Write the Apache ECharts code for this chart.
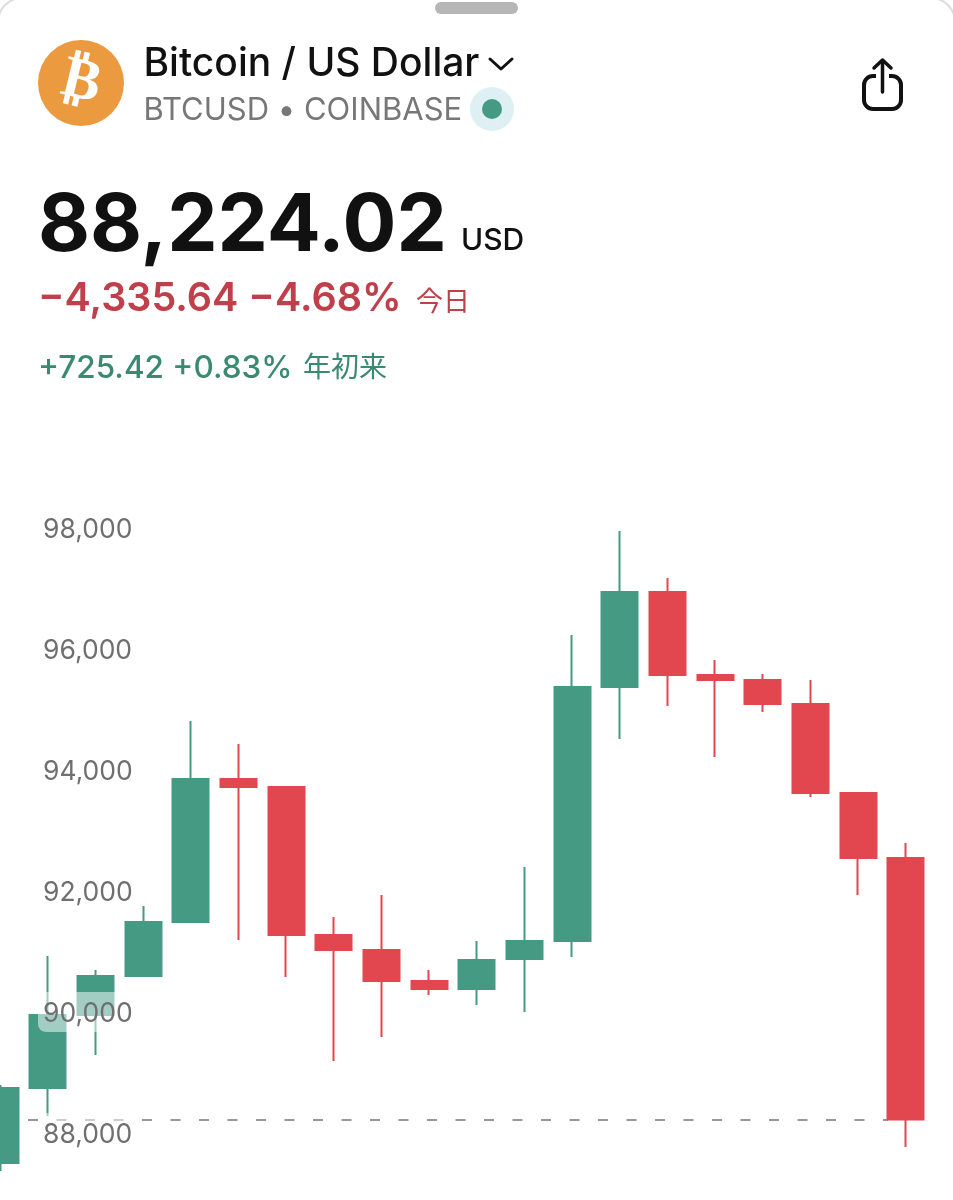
<!DOCTYPE html>
<html>
<head>
<meta charset="utf-8">
<title>BTCUSD</title>
<script src="https://cdn.jsdelivr.net/npm/echarts@6/dist/echarts.min.js"></script>
<style>
  html, body { margin: 0; padding: 0; background: #fff; }
  #main { width: 953px; height: 1200px; }
</style>
</head>
<body>
<div id="main"></div>
<script>
var days = ['1','2','3','4','5','6','7','8','9','10','11','12','13','14','15','16','17','18','19','20'];
var opens  = [87504, 88744, 89950, 90595, 91488, 93851, 93719, 91273, 91025, 90512, 90380, 90876, 91174, 95372, 96942, 95570, 95488, 95091, 93620, 92545];
var closes = [88744, 89950, 90595, 91488, 93851, 93719, 91273, 91025, 90512, 90380, 90860, 91174, 95372, 96942, 95570, 95488, 95091, 93620, 92545, 88224.02];
var lows   = [87372, 88281, 89289, 90595, 91488, 91190, 90579, 89190, 89587, 90281, 90116, 90000, 90909, 94512, 95058, 94215, 94959, 93554, 91934, 87769];
var highs  = [88793, 90926, 90694, 91752, 94810, 94430, 93719, 91570, 91934, 90694, 91174, 92397, 96231, 97950, 97174, 95818, 95587, 95488, 93620, 92793];
var tickLabels = [88000, 90000, 92000, 94000, 96000, 98000];
var lastPrice = 88224.02;

var upColor = '#459a84';
var downColor = '#e2474f';
var uiFont = 'Inter, "Noto Sans CJK JP", sans-serif';

var candles = days.map(function (d, i) {
  return [opens[i], closes[i], lows[i], highs[i]];
});

function label(x, y, text, size, weight, color) {
  return {
    type: 'text', x: x, y: y, z: 10,
    style: { text: text, font: weight + ' ' + size + 'px ' + uiFont, fill: color, textVerticalAlign: 'middle' }
  };
}

var myChart = echarts.init(document.getElementById('main'));
myChart.setOption({
  animation: false,
  backgroundColor: '#fff',
  // the first candle runs off the left edge and the axis range off the bottom
  grid: { left: -23.5, top: 407, width: 953, height: 847, outerBoundsMode: 'none' },
  xAxis: { type: 'category', data: days, show: false },
  yAxis: {
    type: 'value', min: 86000, max: 100000, interval: 2000, z: 5,
    splitLine: { show: false }, axisLine: { show: false }, axisTick: { show: false },
    axisLabel: {
      inside: true, margin: 61.5, color: '#6f6f6f', fontSize: 26.5, fontFamily: uiFont,
      align: 'left', backgroundColor: 'rgba(255,255,255,0.5)', padding: [4, 5, 4, 5],
      lineHeight: 32, borderRadius: 8, customValues: tickLabels,
      // rich padding nudges the digits down inside the label box
      rich: { t: { color: '#6f6f6f', fontSize: 26.5, fontFamily: uiFont, lineHeight: 32, padding: [4, 0, 0, 0] } },
      formatter: function (v) { return '{t|' + v.toLocaleString('en-US') + '}'; }
    }
  },
  series: [{
    type: 'candlestick',
    data: candles,
    barWidth: 36.5,
    itemStyle: { color: upColor, borderColor: upColor, color0: downColor, borderColor0: downColor, borderWidth: 2 },
    markLine: {
      silent: true, symbol: 'none', z: 1, animation: false,
      label: { show: false },
      lineStyle: { color: '#777', type: [10, 18.5], width: 1.5 },
      data: [[{ coord: ['2', lastPrice], x: 28 }, { coord: ['20', lastPrice], x: 888 }]]
    }
  }],
  graphic: [
    { type: 'rect', shape: { x: -2, y: -2, width: 957, height: 1300, r: 24 }, style: { fill: 'none', stroke: '#dedede', lineWidth: 2 }, z: 10 },
    { type: 'rect', shape: { x: 435, y: 2, width: 83, height: 12, r: 6 }, style: { fill: '#b6b6b6' }, z: 10 },
    { type: 'circle', shape: { cx: 81, cy: 83, r: 43 }, style: { fill: '#ec9a3f' }, z: 10 },
    { type: 'text', x: 81, y: 83, rotation: -0.24, z: 11,
      style: { text: '₿', font: 'bold 58px "DejaVu Sans"', fill: '#fff', align: 'center', verticalAlign: 'middle' } },
    label(143.5, 64, 'Bitcoin / US Dollar', 39, 500, '#111'),
    { type: 'polyline', shape: { points: [[490, 59], [501, 69], [512, 59]] }, style: { stroke: '#111', lineWidth: 3, fill: 'none', lineCap: 'round', lineJoin: 'round' }, z: 10 },
    label(143.5, 111, 'BTCUSD • COINBASE', 31, 400, '#777'),
    { type: 'circle', shape: { cx: 492, cy: 109, r: 22 }, style: { fill: '#dff0f4' }, z: 10 },
    { type: 'circle', shape: { cx: 492, cy: 109, r: 10 }, style: { fill: upColor }, z: 11 },
    { type: 'rect', shape: { x: 864, y: 76, width: 37, height: 33, r: 9 }, style: { fill: 'none', stroke: '#111', lineWidth: 4 }, z: 10 },
    { type: 'rect', shape: { x: 876, y: 70, width: 13, height: 10 }, style: { fill: '#fff' }, z: 11 },
    { type: 'polyline', shape: { points: [[882.5, 92], [882.5, 61]] }, style: { stroke: '#111', lineWidth: 3.5, fill: 'none', lineCap: 'round' }, z: 12 },
    { type: 'polyline', shape: { points: [[874, 68], [882.5, 60], [891, 68]] }, style: { stroke: '#111', lineWidth: 3.5, fill: 'none', lineCap: 'round', lineJoin: 'round' }, z: 12 },
    label(38, 227, '88,224.02', 80, 700, '#111'),
    label(461, 241, 'USD', 30, 500, '#111'),
    label(38, 299, '\u22124,335.64 \u22124.68%', 39.5, 600, '#bf3f4a'),
    label(416, 303, '今日', 27, 400, '#bf3f4a'),
    label(38, 369, '+725.42 +0.83%', 31.5, 500, '#3a8a72'),
    label(303, 369, '年初来', 28, 400, '#3a8a72')
  ]
});
</script>
</body>
</html>
